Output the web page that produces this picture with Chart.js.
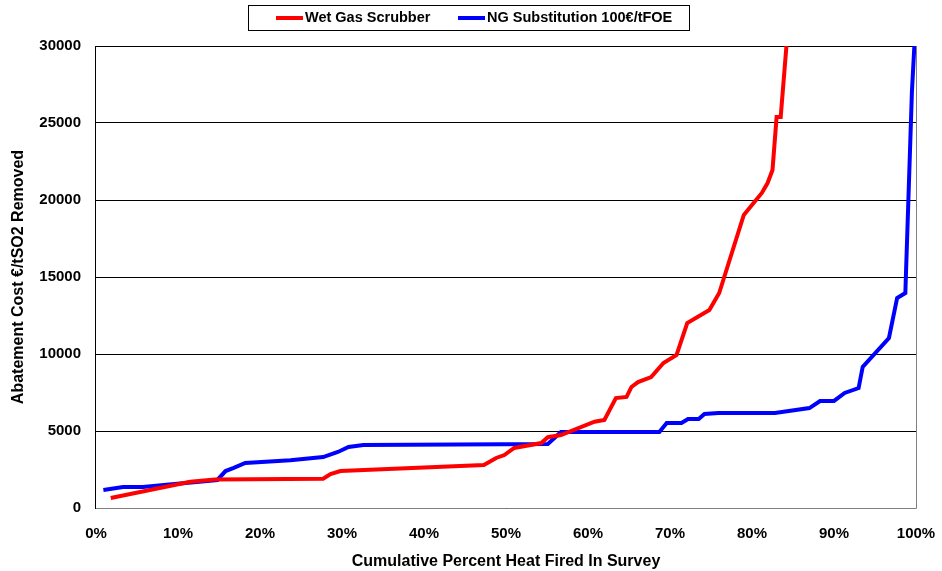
<!DOCTYPE html>
<html>
<head>
<meta charset="utf-8">
<script src="https://cdn.jsdelivr.net/npm/chart.js@4.4.1/dist/chart.umd.min.js"></script>
<style>
  html, body { margin: 0; padding: 0; background: #fff; }
  #wrap { width: 942px; height: 571px; position: relative; }
</style>
</head>
<body>
<div id="wrap"><canvas id="costChart"></canvas></div>
<script>
// Series data (x = cumulative % heat fired, y = €/tSO2)
const scrubberX = [1.8, 11.5, 14.5, 27.7, 28.6, 29.8, 47.3, 48.8, 49.8, 51.0, 54.3, 55.1, 56.7, 60.8, 62.0, 63.4, 64.7, 65.3, 66.1, 67.7, 69.2, 70.8, 72.1, 74.8, 76.0, 79.0, 81.2, 81.9, 82.5, 83.0, 83.5, 84.2];
const scrubberY = [650, 1700, 1850, 1900, 2200, 2400, 2790, 3250, 3440, 3900, 4220, 4600, 4740, 5600, 5720, 7140, 7210, 7860, 8180, 8500, 9420, 9940, 12010, 12860, 13960, 19030, 20460, 21100, 21950, 25390, 25390, 30000];

const ngX = [0.9, 3.3, 5.7, 14.8, 15.8, 16.8, 18.2, 23.7, 27.7, 29.5, 30.8, 32.6, 55.1, 56.7, 68.7, 69.6, 71.4, 72.2, 73.5, 74.2, 75.9, 82.8, 87.0, 88.3, 90.0, 91.3, 93.0, 93.5, 96.7, 97.7, 98.7, 99.5, 99.8];
const ngY = [1170, 1360, 1360, 1820, 2400, 2600, 2920, 3100, 3310, 3640, 3960, 4090, 4160, 4940, 4940, 5520, 5520, 5780, 5780, 6100, 6170, 6170, 6490, 6950, 6950, 7470, 7790, 9160, 11040, 13640, 13960, 27000, 30000];

const seriesLabels = ['Wet Gas Scrubber', 'NG Substitution 100€/tFOE'];
const seriesColors = ['#ff0000', '#0000ff'];

const FONT = "'Liberation Sans', Arial, sans-serif";

function toPoints(xs, ys) {
    return xs.map((x, i) => ({ x: x, y: ys[i] }));
}

// Boxed legend drawn at the top, plus the grey frame round the plot area
const frameAndLegend = {
    id: 'frameAndLegend',
    afterDraw(chart) {
        const ctx = chart.ctx;
        const a = chart.chartArea;
        ctx.save();
        ctx.strokeStyle = '#808080';
        ctx.lineWidth = 1;
        ctx.beginPath();
        ctx.moveTo(a.right + 0.5, a.top);
        ctx.lineTo(a.right + 0.5, a.bottom + 0.5);
        ctx.lineTo(a.left, a.bottom + 0.5);
        ctx.stroke();
        ctx.strokeStyle = '#000';
        ctx.beginPath();
        ctx.moveTo(a.left - 0.5, a.top);
        ctx.lineTo(a.left - 0.5, a.bottom + 1);
        ctx.stroke();

        // legend box
        ctx.strokeStyle = '#000';
        ctx.strokeRect(248.5, 5.5, 441, 25);
        ctx.font = 'bold 14.5px ' + FONT;
        ctx.textBaseline = 'middle';
        const items = [{ x: 276 }, { x: 458 }];
        chart.data.datasets.forEach((ds, i) => {
            const lx = items[i].x;
            ctx.strokeStyle = ds.borderColor;
            ctx.lineWidth = 4;
            ctx.beginPath();
            ctx.moveTo(lx, 18);
            ctx.lineTo(lx + 27, 18);
            ctx.stroke();
            ctx.fillStyle = '#000';
            ctx.fillText(ds.label, lx + 29, 18);
        });
        ctx.restore();
    }
};

new Chart(document.getElementById('costChart'), {
    type: 'line',
    data: {
        datasets: [
            {
                label: seriesLabels[0],
                data: toPoints(scrubberX, scrubberY),
                borderColor: seriesColors[0],
                borderWidth: 4,
                pointRadius: 0,
                tension: 0
            },
            {
                label: seriesLabels[1],
                data: toPoints(ngX, ngY),
                borderColor: seriesColors[1],
                borderWidth: 4,
                pointRadius: 0,
                tension: 0
            }
        ]
    },
    options: {
        responsive: true,
        maintainAspectRatio: false,
        animation: false,
        layout: { padding: { top: 46, right: 26, left: 0, bottom: 0 } },
        plugins: {
            legend: { display: false },
            tooltip: { enabled: false }
        },
        scales: {
            x: {
                type: 'linear',
                min: 0,
                max: 100,
                ticks: {
                    stepSize: 10,
                    color: '#000',
                    font: { family: FONT, size: 15, weight: 'bold' },
                    padding: 9,
                    maxRotation: 0,
                    callback: (v) => v + '%'
                },
                grid: { display: false },
                border: { display: false },
                title: {
                    display: true,
                    text: 'Cumulative Percent Heat Fired In Survey',
                    color: '#000',
                    font: { family: FONT, size: 16, weight: 'bold' },
                    padding: { top: 9, bottom: 0 }
                },
                afterFit: (scale) => {
                    scale.height = 63;
                    scale.paddingLeft = 0;
                    scale.paddingRight = 0;
                }
            },
            y: {
                min: 0,
                max: 30000,
                ticks: {
                    stepSize: 5000,
                    color: '#000',
                    font: { family: FONT, size: 15, weight: 'bold' },
                    padding: 15,
                    callback: (v) => String(v)
                },
                grid: {
                    color: '#000',
                    lineWidth: 1,
                    drawTicks: false
                },
                border: { display: false },
                title: {
                    display: true,
                    text: 'Abatement Cost €/tSO2 Removed',
                    color: '#000',
                    font: { family: FONT, size: 16, weight: 'bold' },
                    padding: { top: 9, bottom: 8 }
                },
                afterFit: (scale) => { scale.width = 96; }
            }
        }
    },
    plugins: [frameAndLegend]
});
</script>
</body>
</html>
